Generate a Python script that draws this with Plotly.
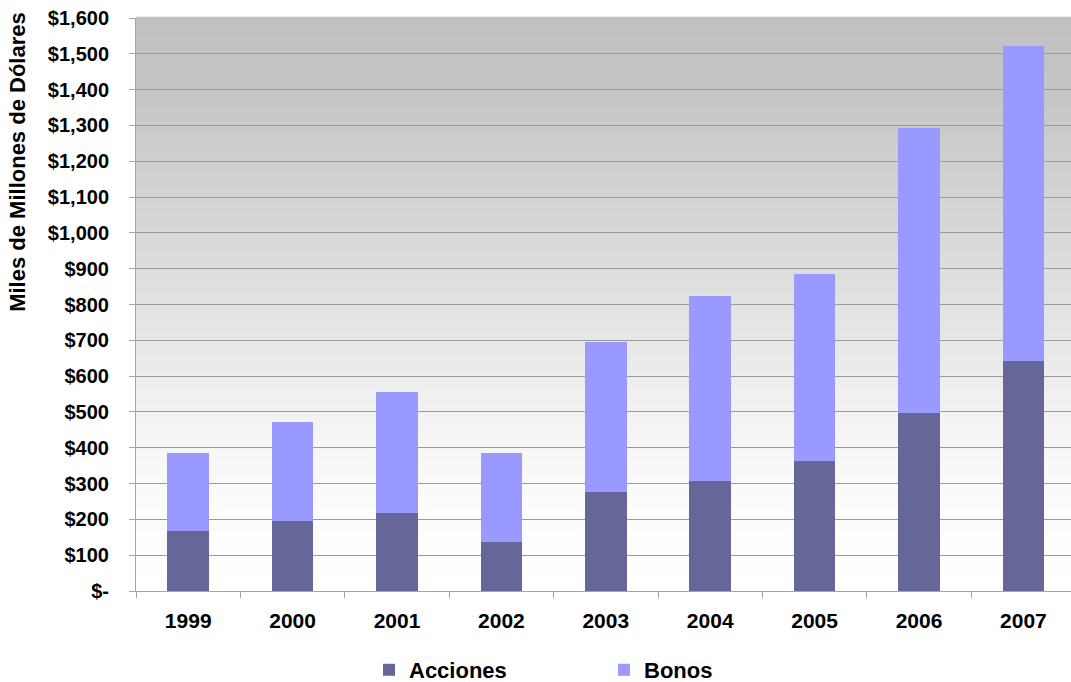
import plotly.graph_objects as go

# Annual issuance, billions of dollars
years = ["1999", "2000", "2001", "2002", "2003", "2004", "2005", "2006", "2007"]
acciones = [168, 196, 218, 137, 277, 307, 363, 497, 642]
bonos = [218, 276, 339, 249, 419, 517, 523, 796, 880]

y_ticks = list(range(0, 1601, 100))
y_labels = ["$-" if v == 0 else "${:,}".format(v) for v in y_ticks]

FONT = "Liberation Sans, Arial, sans-serif"
W, H = 1071, 682

fig = go.Figure()
fig.add_trace(go.Bar(name="Acciones", x=years, y=acciones,
                     marker=dict(color="#666699", line=dict(width=0))))
fig.add_trace(go.Bar(name="Bonos", x=years, y=bonos,
                     marker=dict(color="#9999FF", line=dict(width=0))))

# Vertical grey-to-white gradient behind the plot area
stops = [(0.0, 192), (0.14, 198), (0.53, 228), (0.70, 243), (0.84, 251), (1.0, 255)]

def shade(t):
    for (t0, c0), (t1, c1) in zip(stops[:-1], stops[1:]):
        if t0 <= t <= t1:
            return c0 + (c1 - c0) * (t - t0) / (t1 - t0)
    return 255

n_strips = 120
shapes = []
for i in range(n_strips):
    top = 1 - i / n_strips
    bot = 1 - (i + 1) / n_strips
    g = int(round(shade((i + 0.5) / n_strips)))
    col = "rgb({0},{0},{0})".format(g)
    shapes.append(dict(type="rect", xref="x domain", yref="y domain",
                       x0=0, x1=1, y0=bot, y1=top + 0.002,
                       fillcolor=col, line=dict(width=0), layer="below"))

fig.update_layout(
    barmode="stack",
    bargap=0.6,
    width=W, height=H,
    margin=dict(l=136, r=0, t=18, b=91, autoexpand=False),
    paper_bgcolor="white",
    plot_bgcolor="rgba(0,0,0,0)",
    shapes=shapes,
    showlegend=True,
    legend=dict(orientation="h", xref="container", yref="container",
                x=369 / W, xanchor="left", y=(H - 670) / H, yanchor="middle",
                entrywidth=190, entrywidthmode="pixels",
                font=dict(family=FONT, size=22, color="black", weight="bold"),
                bgcolor="rgba(0,0,0,0)", traceorder="normal"),
    annotations=[dict(text="Miles de Millones de Dólares", textangle=-90,
                      xref="paper", yref="paper", x=(18 - 136) / 935, y=0.749,
                      xanchor="center", yanchor="middle", showarrow=False,
                      font=dict(family=FONT, size=22, color="black", weight="bold"))],
)

fig.update_xaxes(
    type="category",
    range=[-0.5, 8.456],
    tickson="boundaries",
    ticks="outside", ticklen=6, tickcolor="#a6a6a6", tickwidth=1,
    showline=True, linecolor="#a6a6a6", linewidth=1,
    showgrid=False,
    tickfont=dict(family=FONT, size=21, color="black", weight="bold"),
    ticklabelstandoff=11,
)

fig.update_yaxes(
    range=[0, 1600],
    tickvals=y_ticks, ticktext=y_labels,
    ticks="outside", ticklen=6, tickcolor="#a6a6a6", tickwidth=1,
    showline=True, linecolor="#a6a6a6", linewidth=1,
    showgrid=True, gridcolor="#9a9a9a", gridwidth=1,
    zeroline=False,
    tickfont=dict(family=FONT, size=20, color="black", weight="bold"),
    ticklabelstandoff=16,
)

fig.write_html("out.html")
